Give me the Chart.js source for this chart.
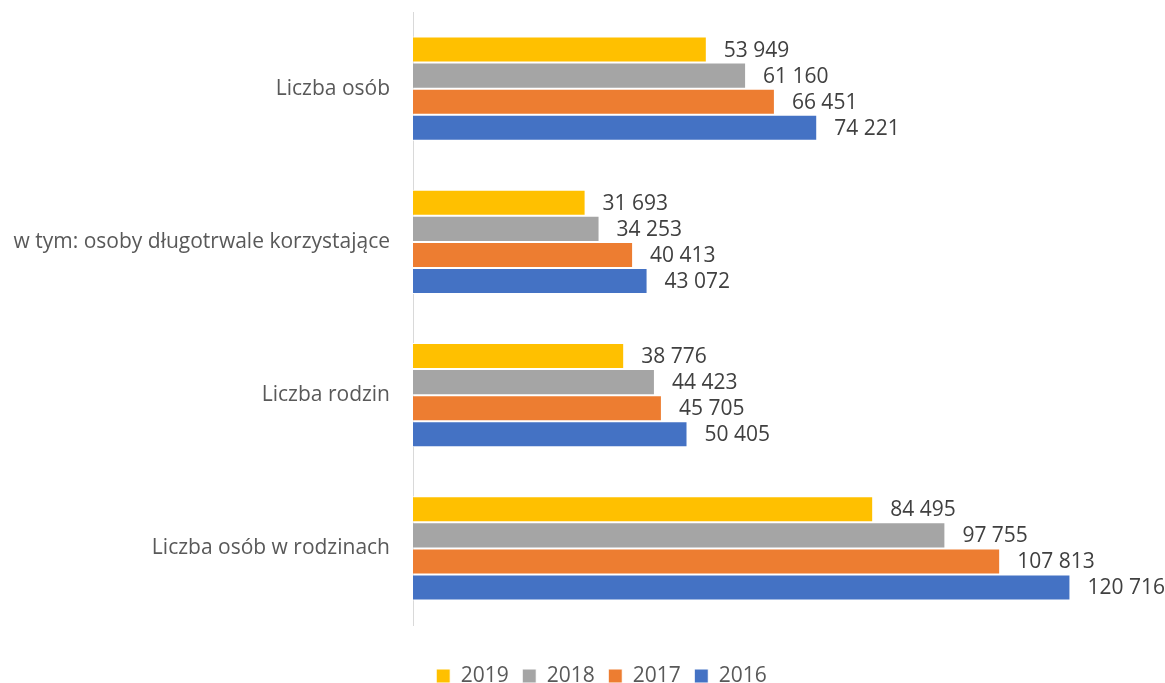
<!DOCTYPE html>
<html>
<head>
<meta charset="utf-8">
<script src="https://cdn.jsdelivr.net/npm/chart.js@4/dist/chart.umd.min.js"></script>
<style>
  html, body { margin: 0; padding: 0; background: #fff; }
  #wrap { width: 1165px; height: 683px; position: relative; }
</style>
</head>
<body>
<div id="wrap"><canvas id="barChart"></canvas></div>
<script>
// categories and series
var categories = ['Liczba osób', 'w tym: osoby długotrwale korzystające', 'Liczba rodzin', 'Liczba osób w rodzinach'];
var years = ['2019', '2018', '2017', '2016'];
var values2019 = [53949, 31693, 38776, 84495];
var values2018 = [61160, 34253, 44423, 97755];
var values2017 = [66451, 40413, 45705, 107813];
var values2016 = [74221, 43072, 50405, 120716];
var colors = ['#FFC000', '#A5A5A5', '#ED7D31', '#4472C4'];

var fontFamily = "'Open Sans', 'Liberation Sans', sans-serif";

function formatNumber(v) {
  return String(v).replace(/\B(?=(\d{3})+(?!\d))/g, ' ');
}

// draw value labels right of each bar
var valueLabels = {
  id: 'valueLabels',
  afterDatasetsDraw: function(chart) {
    var ctx = chart.ctx;
    ctx.save();
    ctx.font = '21px ' + fontFamily;
    ctx.fillStyle = '#404040';
    ctx.textAlign = 'left';
    ctx.textBaseline = 'middle';
    chart.data.datasets.forEach(function(ds, i) {
      chart.getDatasetMeta(i).data.forEach(function(bar, j) {
        ctx.fillText(formatNumber(ds.data[j]), bar.x + 17, bar.y + 1);
      });
    });
    ctx.restore();
  }
};

// move the legend down and right, like in the original
var legendShift = {
  id: 'legendShift',
  afterLayout: function(chart) {
    var lg = chart.legend;
    if (!lg) return;
    lg.top += 27; lg.bottom += 27;
    lg.left += 41; lg.right += 41;
  }
};

var allValues = [values2019, values2018, values2017, values2016];
var datasets = years.map(function(y, i) {
  return {
    label: y,
    data: allValues[i],
    backgroundColor: colors[i],
    borderColor: '#ffffff',
    borderWidth: 1,
    borderSkipped: 'start'
  };
});

var ctx = document.getElementById('barChart').getContext('2d');
var barChart = new Chart(ctx, {
  type: 'bar',
  data: { labels: categories, datasets: datasets },
  plugins: [valueLabels, legendShift],
  options: {
    indexAxis: 'y',
    responsive: true,
    maintainAspectRatio: false,
    animation: false,
    layout: { padding: { top: 12, right: 44, bottom: 13.5, left: 0 } },
    datasets: {
      bar: { categoryPercentage: 0.68, barPercentage: 1.0 }
    },
    plugins: {
      legend: {
        position: 'bottom',
        labels: {
          boxWidth: 14,
          boxHeight: 14,
          padding: 13.5,
          color: '#595959',
          font: { family: fontFamily, size: 21 }
        }
      },
      tooltip: { enabled: false }
    },
    scales: {
      x: {
        display: false,
        min: 0,
        max: 130000
      },
      y: {
        grid: { display: false, drawTicks: false },
        border: { color: '#D9D9D9', width: 1 },
        ticks: {
          color: '#595959',
          padding: 23,
          font: { family: fontFamily, size: 21 }
        },
        afterFit: function(scale) {
          scale.width = 413;
          scale.paddingTop = 0;
          scale.paddingBottom = 0;
        }
      }
    }
  }
});
</script>
</body>
</html>
